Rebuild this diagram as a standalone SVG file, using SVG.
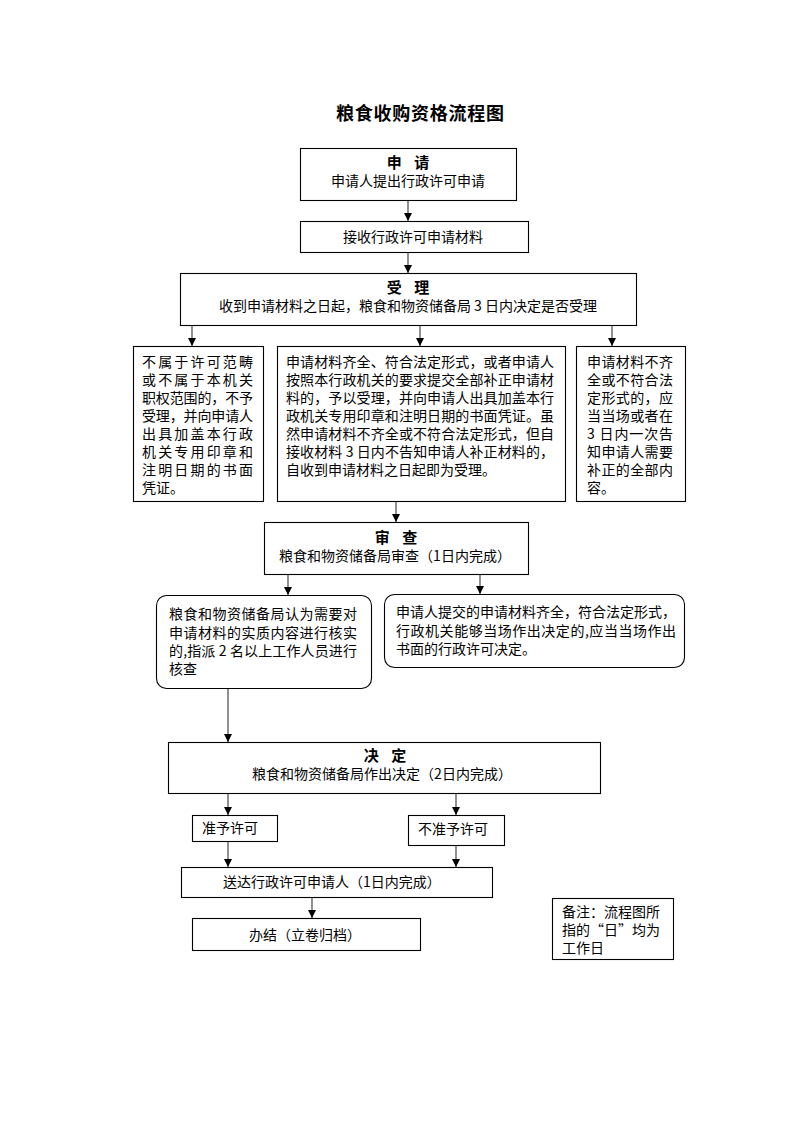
<svg xmlns="http://www.w3.org/2000/svg" width="793" height="1122" viewBox="0 0 793 1122">
<defs>
<style>
.b{fill:#fff;stroke:#000;stroke-width:1.1}
.t{font-family:"Noto Sans CJK SC","Noto Sans CJK JP",sans-serif;font-size:14px;fill:#000}
.h{font-family:"Noto Sans CJK SC","Noto Sans CJK JP",sans-serif;font-size:15px;font-weight:bold;fill:#000;word-spacing:9px}
.m{text-anchor:middle}
.c{stroke:#555;stroke-width:1.3;fill:none;marker-end:url(#arr)}
</style>
<marker id="arr" markerUnits="userSpaceOnUse" markerWidth="9" markerHeight="9" refX="8" refY="4" orient="auto">
<path d="M0,0 L8,4 L0,8 z" fill="#000"/>
</marker>
</defs>
<rect width="793" height="1122" fill="#fff"/>
<text x="420" y="120" class="m" font-family="Noto Sans CJK SC, sans-serif" font-size="18" font-weight="bold" textLength="168" lengthAdjust="spacing">粮食收购资格流程图</text>

<g id="connectors">
<line class="c" x1="408" y1="200" x2="408" y2="221"/>
<line class="c" x1="408" y1="252" x2="408" y2="273"/>
<line class="c" x1="192" y1="325" x2="192" y2="346"/>
<line class="c" x1="420" y1="325" x2="420" y2="346"/>
<line class="c" x1="612" y1="325" x2="612" y2="346"/>
<line class="c" x1="396" y1="501" x2="396" y2="522"/>
<line class="c" x1="288" y1="574" x2="288" y2="595"/>
<line class="c" x1="480" y1="574" x2="480" y2="594"/>
<line class="c" x1="228" y1="688" x2="228" y2="742"/>
<line class="c" x1="228" y1="793" x2="228" y2="815"/>
<line class="c" x1="456" y1="793" x2="456" y2="815"/>
<line class="c" x1="228" y1="841" x2="228" y2="867"/>
<line class="c" x1="456" y1="845" x2="456" y2="867"/>
<line class="c" x1="312" y1="897" x2="312" y2="918"/>
</g>

<g id="n-apply">
<rect class="b" x="300.5" y="148.5" width="216" height="52"/>
<text x="408" y="168" class="h m">申 请</text>
<text x="408" y="186" class="t m">申请人提出行政许可申请</text>
</g>

<g id="n-receive">
<rect class="b" x="300.5" y="221.5" width="228" height="31"/>
<text x="413" y="242" class="t m">接收行政许可申请材料</text>
</g>

<g id="n-accept">
<rect class="b" x="180.5" y="273.5" width="456" height="52"/>
<text x="408" y="293" class="h m">受 理</text>
<text x="408" y="311" class="t m">收到申请材料之日起，粮食和物资储备局 3 日内决定是否受理</text>
</g>

<g id="n-reject">
<rect class="b" x="133.5" y="346.5" width="130" height="155"/>
<text class="t">
<tspan x="142" y="367" textLength="111" lengthAdjust="spacing">不属于许可范畴</tspan>
<tspan x="142" y="385" textLength="111" lengthAdjust="spacing">或不属于本机关</tspan>
<tspan x="142" y="403" textLength="111" lengthAdjust="spacing">职权范围的，不予</tspan>
<tspan x="142" y="421" textLength="111" lengthAdjust="spacing">受理，并向申请人</tspan>
<tspan x="142" y="439" textLength="111" lengthAdjust="spacing">出具加盖本行政</tspan>
<tspan x="142" y="457" textLength="111" lengthAdjust="spacing">机关专用印章和</tspan>
<tspan x="142" y="475" textLength="111" lengthAdjust="spacing">注明日期的书面</tspan>
<tspan x="142" y="493">凭证。</tspan>
</text>
</g>

<g id="n-complete">
<rect class="b" x="277.5" y="346.5" width="288" height="155"/>
<text class="t">
<tspan x="286" y="367" textLength="268" lengthAdjust="spacing">申请材料齐全、符合法定形式，或者申请人</tspan>
<tspan x="286" y="385" textLength="268" lengthAdjust="spacing">按照本行政机关的要求提交全部补正申请材</tspan>
<tspan x="286" y="403" textLength="268" lengthAdjust="spacing">料的，予以受理，并向申请人出具加盖本行</tspan>
<tspan x="286" y="421" textLength="268" lengthAdjust="spacing">政机关专用印章和注明日期的书面凭证。虽</tspan>
<tspan x="286" y="439" textLength="268" lengthAdjust="spacing">然申请材料不齐全或不符合法定形式，但自</tspan>
<tspan x="286" y="457" textLength="268" lengthAdjust="spacing">接收材料 3 日内不告知申请人补正材料的，</tspan>
<tspan x="286" y="475">自收到申请材料之日起即为受理。</tspan>
</text>
</g>

<g id="n-incomplete">
<rect class="b" x="576.5" y="346.5" width="109" height="155"/>
<text class="t">
<tspan x="587" y="367" textLength="86" lengthAdjust="spacing">申请材料不齐</tspan>
<tspan x="587" y="385" textLength="86" lengthAdjust="spacing">全或不符合法</tspan>
<tspan x="587" y="403" textLength="86" lengthAdjust="spacing">定形式的，应</tspan>
<tspan x="587" y="421" textLength="86" lengthAdjust="spacing">当当场或者在</tspan>
<tspan x="587" y="439" textLength="86" lengthAdjust="spacing">3 日内一次告</tspan>
<tspan x="587" y="457" textLength="86" lengthAdjust="spacing">知申请人需要</tspan>
<tspan x="587" y="475" textLength="86" lengthAdjust="spacing">补正的全部内</tspan>
<tspan x="587" y="493">容。</tspan>
</text>
</g>

<g id="n-review">
<rect class="b" x="264.5" y="522.5" width="264" height="52"/>
<text x="396" y="543" class="h m">审 查</text>
<text x="395" y="561" class="t m">粮食和物资储备局审查（1日内完成）</text>
</g>

<g id="n-verify">
<rect class="b" x="156.5" y="595.5" width="215" height="93" rx="10" ry="10"/>
<text class="t">
<tspan x="169" y="619" textLength="188" lengthAdjust="spacing">粮食和物资储备局认为需要对</tspan>
<tspan x="169" y="638" textLength="188" lengthAdjust="spacing">申请材料的实质内容进行核实</tspan>
<tspan x="169" y="656" textLength="188" lengthAdjust="spacing">的,指派 2 名以上工作人员进行</tspan>
<tspan x="169" y="674">核查</tspan>
</text>
</g>

<g id="n-onsite">
<rect class="b" x="384.5" y="594.5" width="300" height="73" rx="10" ry="10"/>
<text class="t">
<tspan x="396" y="617" textLength="280" lengthAdjust="spacing">申请人提交的申请材料齐全，符合法定形式，</tspan>
<tspan x="396" y="636" textLength="280" lengthAdjust="spacing">行政机关能够当场作出决定的,应当当场作出</tspan>
<tspan x="396" y="654">书面的行政许可决定。</tspan>
</text>
</g>

<g id="n-decide">
<rect class="b" x="168.5" y="742.5" width="432" height="51"/>
<text x="385" y="761" class="h m">决 定</text>
<text x="382" y="779" class="t m">粮食和物资储备局作出决定（2日内完成）</text>
</g>

<g id="n-grant">
<rect class="b" x="192.5" y="815.5" width="85" height="26"/>
<text x="202" y="833" class="t">准予许可</text>
</g>

<g id="n-deny">
<rect class="b" x="408.5" y="815.5" width="96" height="30"/>
<text x="418" y="834" class="t">不准予许可</text>
</g>

<g id="n-deliver">
<rect class="b" x="181.5" y="867.5" width="311" height="30"/>
<text x="223" y="887" class="t">送达行政许可申请人（1日内完成）</text>
</g>

<g id="n-close">
<rect class="b" x="192.5" y="918.5" width="228" height="32"/>
<text x="249" y="940" class="t">办结（立卷归档）</text>
</g>

<g id="n-note">
<rect class="b" x="552.5" y="898.5" width="121" height="61"/>
<text class="t">
<tspan x="562" y="917">备注：流程图所</tspan>
<tspan x="562" y="935">指的“日”均为</tspan>
<tspan x="562" y="953">工作日</tspan>
</text>
</g>
</svg>
